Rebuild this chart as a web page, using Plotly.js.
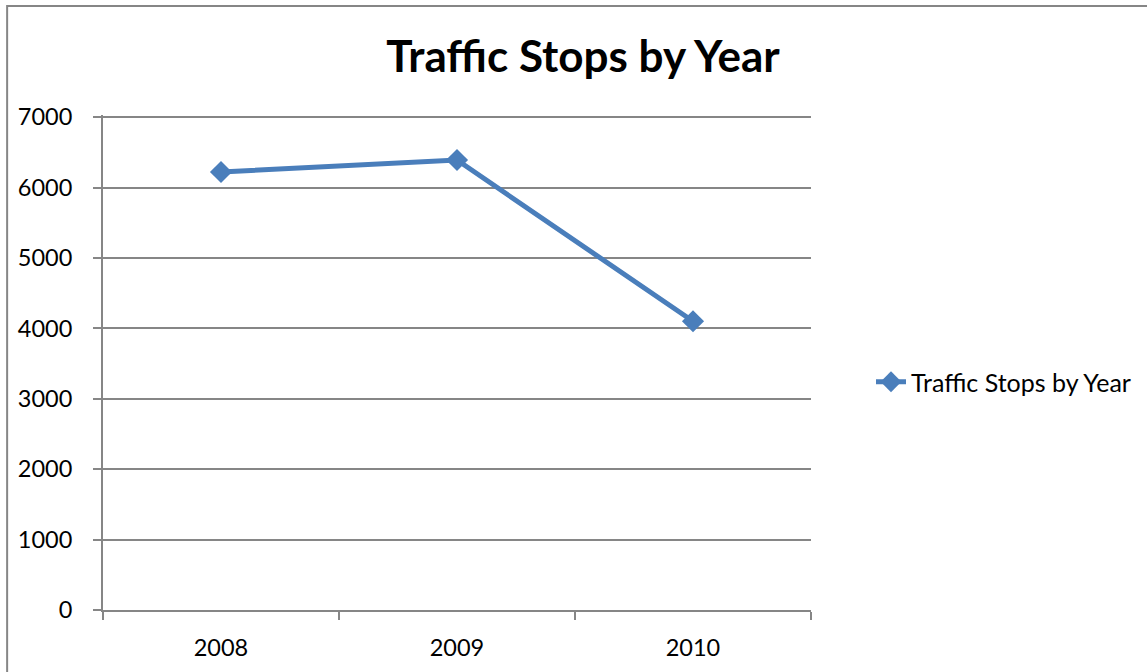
<!DOCTYPE html>
<html>
<head>
<meta charset="utf-8">
<script src="https://cdn.plot.ly/plotly-3.0.1.min.js"></script>
<style>html,body{margin:0;padding:0;background:#fff;}#chart{width:1147px;height:672px;}</style>
</head>
<body>
<div id="chart"></div>
<script>
const years = ["2008", "2009", "2010"];
const stops = [6220, 6390, 4100];
const seriesName = "Traffic Stops by Year";
const chartTitle = "Traffic Stops by Year";

const FONT = "Lato, 'Open Sans', sans-serif";
const GRID = "#868686";

const trace = {
  x: years,
  y: stops,
  type: "scatter",
  mode: "lines+markers",
  name: seriesName,
  line: {color: "#4a7ebb", width: 5},
  marker: {symbol: "diamond", size: 17, color: "#4a7ebb"},
  cliponaxis: false
};

const layout = {
  width: 1147,
  height: 672,
  margin: {l: 103, r: 335, t: 115, b: 62, pad: 0},
  paper_bgcolor: "#fff",
  plot_bgcolor: "#fff",
  font: {family: FONT, color: "#000", size: 23},
  title: {
    text: "<b>" + chartTitle + "</b>",
    font: {family: FONT, size: 44, color: "#000"},
    x: 583/1147, xref: "container", xanchor: "center",
    y: 1 - 57/672, yref: "container", yanchor: "middle"
  },
  xaxis: {
    type: "category",
    range: [-0.5, 2.5],
    showgrid: false,
    showline: true, linecolor: GRID, linewidth: 2,
    ticks: "outside", tickson: "boundaries", ticklen: 8, tickcolor: GRID, tickwidth: 2,
    ticklabelstandoff: 16,
    tickfont: {family: FONT, size: 23.5, color: "#000"},
    zeroline: false, fixedrange: true
  },
  yaxis: {
    range: [0, 7030],
    tick0: 0,
    dtick: 1000,
    tickformat: "d",
    showgrid: true, gridcolor: GRID, gridwidth: 2,
    showline: true, linecolor: GRID, linewidth: 2,
    ticks: "outside", ticklen: 8, tickcolor: GRID, tickwidth: 2,
    ticklabelstandoff: 16,
    tickfont: {family: FONT, size: 23.5, color: "#000"},
    zeroline: false, fixedrange: true
  },
  showlegend: true,
  legend: {
    x: (871 - 103) / 709, xanchor: "left",
    y: (610 - 382) / 495, yanchor: "middle",
    font: {family: FONT, size: 25, color: "#000"},
    bgcolor: "rgba(0,0,0,0)"
  },
  shapes: [{
    type: "rect", xref: "paper", yref: "paper",
    x0: (7 - 103) / 709, x1: 1.8,
    y0: -0.5, y1: (610 - 6) / 495,
    line: {color: GRID, width: 2},
    fillcolor: "rgba(0,0,0,0)",
    layer: "below"
  }]
};

Plotly.newPlot("chart", [trace], layout, {displayModeBar: false, staticPlot: true});
</script>
</body>
</html>
